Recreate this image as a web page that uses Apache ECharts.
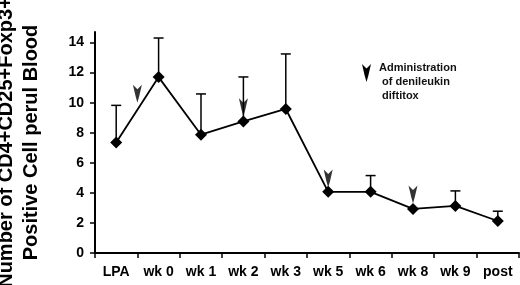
<!DOCTYPE html>
<html>
<head>
<meta charset="utf-8">
<script src="https://cdn.jsdelivr.net/npm/echarts@6/dist/echarts.min.js"></script>
<style>
  html, body { margin: 0; padding: 0; background: #fff; }
  #chart { width: 520px; height: 285px; }
</style>
</head>
<body>
<div id="chart"></div>
<script>
const categories = ['LPA', 'wk 0', 'wk 1', 'wk 2', 'wk 3', 'wk 5', 'wk 6', 'wk 8', 'wk 9', 'post'];
const cellCounts = [7.35, 11.7, 7.87, 8.75, 9.58, 4.07, 4.07, 2.93, 3.13, 2.13];
const errorTops = [9.82, 14.3, 10.58, 11.71, 13.24, null, 5.15, null, 4.13, 2.78];
const yTicks = [0, 2, 4, 6, 8, 10, 12, 14];
// arrows mark denileukin diftitox doses (x = category index, y = tip value)
const doseX = [0.5, 3, 5, 7];
const doseY = [10.0, 9.1, 4.35, 3.3];

const FONT = '"Liberation Sans", Arial, sans-serif';
const arrowPts = [[0, 0], [5, 5], [10, 0], [7, 13], [5, 20], [3, 13]];
const arrowPath = 'path://M' + arrowPts.map(p => p.join(',')).join(' L') + ' Z';

const chart = echarts.init(document.getElementById('chart'));

// legend arrow, same outline as the dose markers
const legendArrow = arrowPts.map(p => [362 + p[0] * 0.9, 64 + p[1] * 0.9]);

const option = {
  animation: false,
  backgroundColor: '#fff',
  grid: { left: 95, right: 1, top: 32, bottom: 32, outerBoundsMode: 'none', containLabel: false },
  xAxis: [
    {
      type: 'category',
      data: categories,
      boundaryGap: true,
      axisLine: { onZero: false, lineStyle: { color: '#000', width: 2 } },
      axisTick: { show: true, length: 5, lineStyle: { color: '#000', width: 1.5 } },
      axisLabel: { color: '#000', fontSize: 14, fontWeight: 'bold', fontFamily: FONT, margin: 12, interval: 0 }
    },
    {
      type: 'value',
      min: -0.5,
      max: 9.5,
      show: false
    }
  ],
  yAxis: {
    type: 'value',
    min: 0,
    max: 14.7,
    interval: 2,
    name: 'Number of CD4+CD25+Foxp3+\nPositive Cell perul Blood',
    nameLocation: 'middle',
    nameGap: 51,
    nameTextStyle: { color: '#000', fontSize: 20, fontWeight: 'bold', fontFamily: FONT, lineHeight: 25 },
    splitLine: { show: false },
    axisLine: { show: true, onZero: false, lineStyle: { color: '#000', width: 2 } },
    axisTick: { show: true, length: 5, customValues: yTicks, lineStyle: { color: '#000', width: 1.5 } },
    axisLabel: { color: '#000', fontSize: 14, fontWeight: 'bold', fontFamily: FONT, margin: 11, customValues: yTicks }
  },
  graphic: [
    {
      type: 'polygon',
      shape: { points: legendArrow },
      style: { fill: '#000' }
    },
    {
      type: 'text',
      left: 379,
      top: 61,
      style: {
        text: 'Administration\n of denileukin\n diftitox',
        fill: '#111',
        font: 'bold 11px ' + FONT,
        lineHeight: 14
      }
    }
  ],
  series: [
    {
      type: 'custom',
      xAxisIndex: 0,
      z: 1,
      renderItem: function (params, api) {
        const top = errorTops[params.dataIndex];
        if (top == null) return;
        const p0 = api.coord([params.dataIndex, cellCounts[params.dataIndex]]);
        const p1 = api.coord([params.dataIndex, top]);
        return {
          type: 'group',
          children: [
            { type: 'line', shape: { x1: p0[0], y1: p0[1], x2: p1[0], y2: p1[1] }, style: { stroke: '#000', lineWidth: 1.5 } },
            { type: 'line', shape: { x1: p1[0] - 5, y1: p1[1], x2: p1[0] + 5, y2: p1[1] }, style: { stroke: '#000', lineWidth: 1.5 } }
          ]
        };
      },
      data: categories.map((c, i) => [i, errorTops[i]])
    },
    {
      type: 'line',
      xAxisIndex: 0,
      z: 2,
      data: cellCounts,
      symbol: 'diamond',
      symbolSize: 12,
      itemStyle: { color: '#000' },
      lineStyle: { color: '#000', width: 1.8 }
    },
    {
      type: 'scatter',
      xAxisIndex: 1,
      z: 3,
      symbol: arrowPath,
      symbolSize: [9, 18],
      symbolOffset: [0, '-50%'],
      itemStyle: { color: '#000' },
      data: doseX.map((x, i) => [x, doseY[i]])
    }
  ]
};

chart.setOption(option);
</script>
</body>
</html>
